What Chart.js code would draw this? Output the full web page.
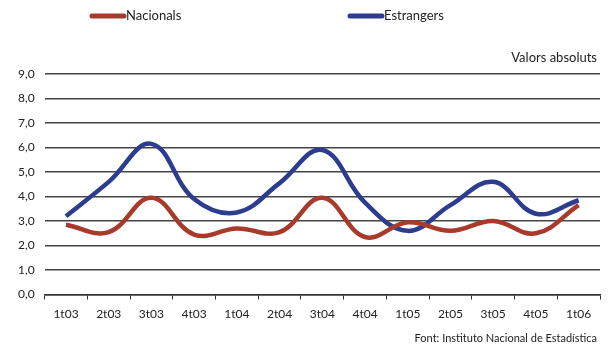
<!DOCTYPE html>
<html>
<head>
<meta charset="utf-8">
<script src="https://cdn.jsdelivr.net/npm/chart.js@4"></script>
<style>
  html, body { margin: 0; padding: 0; background: #fff; }
</style>
</head>
<body>
<canvas id="grafic" width="609" height="347"></canvas>
<script>
const trimestres = ['1t03', '2t03', '3t03', '4t03', '1t04', '2t04', '3t04', '4t04', '1t05', '2t05', '3t05', '4t05', '1t06'];
const nacionals = [2.85, 2.55, 3.95, 2.45, 2.7, 2.55, 3.95, 2.35, 2.95, 2.6, 3.0, 2.5, 3.65];
const estrangers = [3.2, 4.6, 6.15, 3.9, 3.35, 4.55, 5.9, 3.75, 2.6, 3.65, 4.6, 3.3, 3.85];

const font = 'Lato, "Liberation Sans", sans-serif';

// llegenda i textos fora del grafic
const textos = {
    id: 'textos',
    afterDraw(chart) {
        const c = chart.ctx;
        c.save();
        c.font = '13px ' + font;
        c.fillStyle = '#222';
        c.textBaseline = 'middle';
        const llegenda = [[90, 0], [348, 1]];
        llegenda.forEach(([x, i]) => {
            const ds = chart.data.datasets[i];
            c.strokeStyle = ds.borderColor;
            c.lineWidth = 5;
            c.lineCap = 'round';
            c.beginPath();
            c.moveTo(x + 2, 16);
            c.lineTo(x + 34, 16);
            c.stroke();
            c.fillText(ds.label, x + 36, 16);
        });
        c.textAlign = 'right';
        c.font = '13px ' + font;
        c.fillText('Valors absoluts', 597, 58);
        c.font = '11px ' + font;
        c.fillText('Font: Instituto Nacional de Estadística', 597, 338);
        c.restore();
    }
};

const chart = new Chart(document.getElementById('grafic'), {
    type: 'line',
    data: {
        labels: trimestres,
        datasets: [
            {
                label: 'Nacionals',
                data: nacionals,
                borderColor: '#a83a2c',
                borderWidth: 4.5,
                pointRadius: 0,
                tension: 0.4,
                fill: false
            },
            {
                label: 'Estrangers',
                data: estrangers,
                borderColor: '#2c3c8e',
                borderWidth: 4.5,
                pointRadius: 0,
                tension: 0.4,
                fill: false
            }
        ]
    },
    options: {
        responsive: false,
        animation: false,
        layout: { padding: { top: 74, right: 9, bottom: 19, left: 8 } },
        plugins: {
            legend: { display: false },
            tooltip: { enabled: false }
        },
        scales: {
            x: {
                offset: true,
                grid: {
                    offset: true,
                    drawOnChartArea: false,
                    color: '#333',
                    tickLength: 5
                },
                border: { color: '#333', width: 1.5 },
                ticks: {
                    color: '#222',
                    font: { family: font, size: 12 },
                    padding: 7,
                    maxRotation: 0
                }
            },
            y: {
                min: 0,
                max: 9,
                grid: {
                    color: '#444',
                    lineWidth: 1.5,
                    drawTicks: false
                },
                border: { display: false },
                ticks: {
                    stepSize: 1,
                    color: '#222',
                    padding: 10,
                    font: { family: font, size: 12 },
                    callback: v => v.toFixed(1).replace('.', ',')
                }
            }
        }
    },
    plugins: [textos]
});
</script>
</body>
</html>
